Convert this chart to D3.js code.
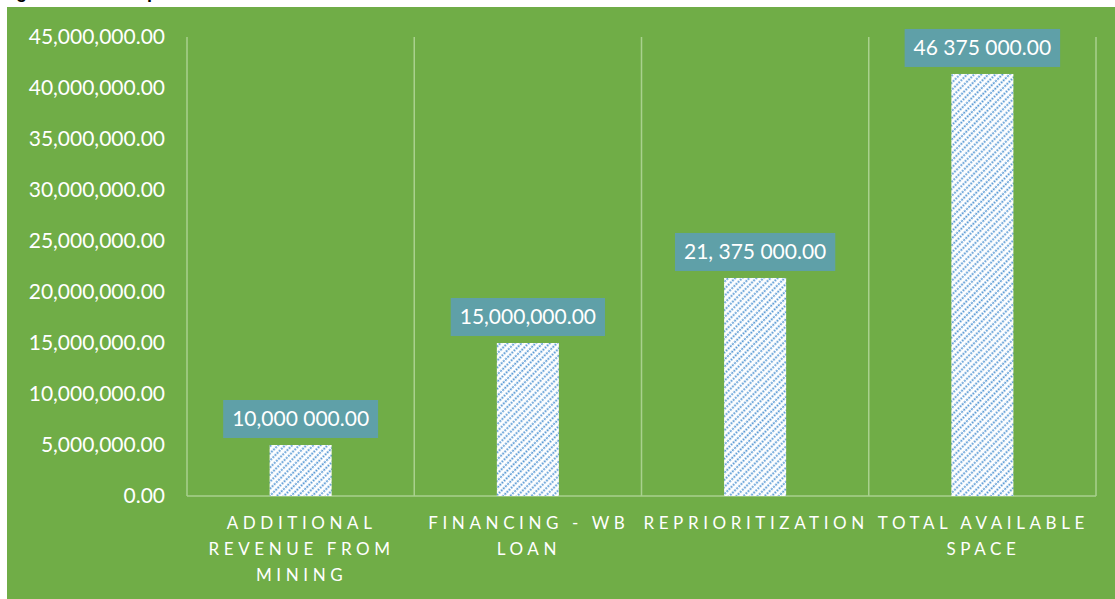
<!DOCTYPE html>
<html>
<head>
<meta charset="utf-8">
<script src="https://cdn.jsdelivr.net/npm/d3@7"></script>
<style>
  html, body { margin: 0; padding: 0; background: #ffffff; }
  svg { display: block; }
</style>
</head>
<body>
<svg id="chart" width="1115" height="599"></svg>
<script>
// Fiscal space sources (amounts)
const categories = [
  "ADDITIONAL REVENUE FROM MINING",
  "FINANCING - WB LOAN",
  "REPRIORITIZATION",
  "TOTAL AVAILABLE SPACE"
];
const values = [5000000, 15000000, 21375000, 41375000];
const valueLabels = ["10,000 000.00", "15,000,000.00", "21, 375 000.00", "46 375 000.00"];
const yTicks = [0, 5000000, 10000000, 15000000, 20000000, 25000000, 30000000, 35000000, 40000000, 45000000];

const W = 1115, H = 599;
const plot = { left: 187, right: 1096, top: 37, bottom: 496 };
const font = "Lato, 'Open Sans', sans-serif";

const svg = d3.select("#chart");

// caption line above the chart panel (only its lower edge shows above the panel)
svg.append("text")
  .attr("x", 0).attr("y", -2)
  .attr("font-family", "'Liberation Sans', Arial, sans-serif")
  .attr("font-weight", "bold").attr("font-size", 18)
  .attr("fill", "#000")
  .text("Figure 9: Fiscal space");

// green chart panel
svg.append("rect")
  .attr("x", 7).attr("y", 7)
  .attr("width", W - 7).attr("height", H - 7)
  .attr("fill", "#70AD47");

// diagonal dashed hatch for bars
const defs = svg.append("defs");
const pat = defs.append("pattern")
  .attr("id", "hatch")
  .attr("patternUnits", "userSpaceOnUse")
  .attr("width", 5).attr("height", 9)
  .attr("patternTransform", "rotate(45)");
pat.append("rect").attr("width", 5).attr("height", 9).attr("fill", "#ffffff");
pat.append("line")
  .attr("x1", 1.5).attr("x2", 1.5).attr("y1", 0).attr("y2", 9)
  .attr("stroke", "#5B9BD5")
  .attr("stroke-width", 1.8)
  .attr("stroke-dasharray", "2,1");

const x = d3.scaleBand()
  .domain(categories)
  .range([plot.left, plot.right])
  .paddingInner(0).paddingOuter(0);

const y = d3.scaleLinear()
  .domain([0, 45000000])
  .range([plot.bottom, plot.top]);

const fmt = d3.format(",.2f");

// vertical category separators
const seps = categories.map(c => x(c)).concat([plot.right]);
svg.append("g").selectAll("line")
  .data(seps)
  .join("line")
  .attr("x1", d => d).attr("x2", d => d)
  .attr("y1", plot.top).attr("y2", plot.bottom)
  .attr("stroke", "#A9D18E").attr("stroke-width", 1.5);

// baseline
svg.append("line")
  .attr("x1", plot.left).attr("x2", plot.right)
  .attr("y1", y(0)).attr("y2", y(0))
  .attr("stroke", "#A9D18E").attr("stroke-width", 1.5);

// y axis labels
const yAxis = d3.axisLeft(y).tickValues(yTicks).tickFormat(fmt).tickSize(0).tickPadding(22);
const gy = svg.append("g")
  .attr("transform", `translate(${plot.left},0)`)
  .call(yAxis);
gy.select(".domain").remove();
gy.selectAll("text")
  .attr("font-family", font)
  .attr("font-size", 21)
  .attr("fill", "#ffffff");

// bars
const barW = x.bandwidth() * 0.273;
svg.append("g").selectAll("rect")
  .data(values)
  .join("rect")
  .attr("x", (d, i) => x(categories[i]) + x.bandwidth() / 2 - barW / 2)
  .attr("y", d => y(d))
  .attr("width", barW)
  .attr("height", d => y(0) - y(d))
  .attr("fill", "url(#hatch)");

// value call-out boxes
const boxes = svg.append("g").selectAll("g")
  .data(values)
  .join("g");
boxes.each(function (d, i) {
  const g = d3.select(this);
  const cx = x(categories[i]) + x.bandwidth() / 2;
  const bottom = y(d) - 7;
  const t = g.append("text")
    .attr("x", cx)
    .attr("y", bottom - 12)
    .attr("text-anchor", "middle")
    .attr("font-family", font)
    .attr("font-size", 21)
    .attr("fill", "#ffffff")
    .text(valueLabels[i]);
  const tw = t.node().getComputedTextLength();
  g.insert("rect", "text")
    .attr("x", cx - tw / 2 - 9)
    .attr("y", bottom - 38)
    .attr("width", tw + 18)
    .attr("height", 38)
    .attr("fill", "#5FA0A8");
});

// category labels, wrapped within each band, letter-spaced
const ls = 4.6;
const gx = svg.append("g");
categories.forEach(c => {
  const cx = x(c) + x.bandwidth() / 2;
  const words = c.split(" ");
  const probe = gx.append("text")
    .attr("font-family", font).attr("font-size", 17)
    .attr("letter-spacing", ls);
  const lines = [];
  let cur = [];
  words.forEach(w => {
    const trial = cur.concat([w]).join(" ");
    probe.text(trial);
    if (cur.length && probe.node().getComputedTextLength() > x.bandwidth() - 6) {
      lines.push(cur.join(" "));
      cur = [w];
    } else {
      cur.push(w);
    }
  });
  if (cur.length) lines.push(cur.join(" "));
  probe.remove();
  lines.forEach((ln, k) => {
    gx.append("text")
      .attr("x", cx + 1)
      .attr("y", 529 + k * 26)
      .attr("text-anchor", "middle")
      .attr("font-family", font)
      .attr("font-size", 17)
      .attr("letter-spacing", ls)
      .attr("fill", "#ffffff")
      .text(ln);
  });
});
</script>
</body>
</html>
